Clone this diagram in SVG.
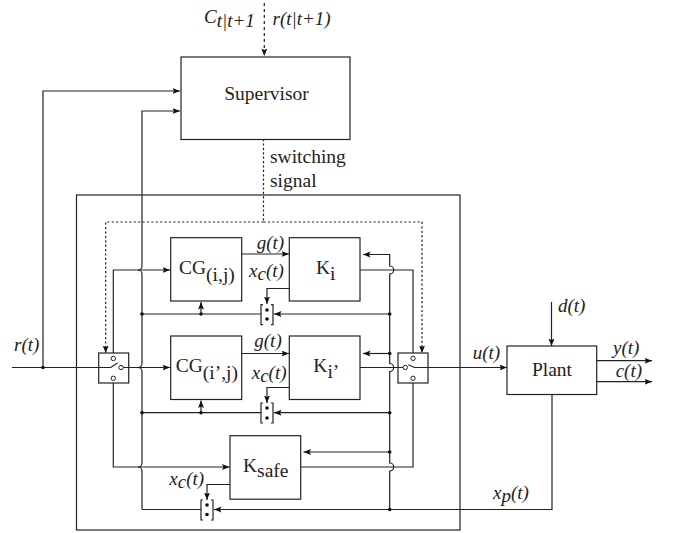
<svg xmlns="http://www.w3.org/2000/svg" width="673" height="533" viewBox="0 0 673 533">
<style>
.b{fill:#fff;stroke:#222;stroke-width:1.2}
.l{fill:none;stroke:#222;stroke-width:1.2}
.d{fill:none;stroke:#222;stroke-width:1.2;stroke-dasharray:2.2 2.2}
.c{fill:#fff;stroke:#222;stroke-width:1}
.m{fill:none;stroke:#222;stroke-width:1.2}
text{font-family:"Liberation Serif",serif;fill:#222;font-size:19.5px}
.i{font-style:italic;font-size:19px}
</style>
<defs>
<marker id="a" viewBox="0 0 8 8" refX="7.5" refY="4" markerWidth="8" markerHeight="8" markerUnits="userSpaceOnUse" orient="auto"><path d="M0 1L7.5 4L0 7L1.5 4Z" fill="#111"/></marker>
<circle id="dot" r="1.8" fill="#111"/>
</defs>
<g id="outer-box"><rect x="76.500" y="195" width="383.500" height="335" fill="none" stroke="#222" stroke-width="1.200"/></g>
<g id="connectors">
<path class="l" d="M12 367.500H98.700"/>
<path class="l" marker-end="url(#a)" d="M43 367.500V91H180"/>
<path class="l" marker-end="url(#a)" d="M142 509.500V471a4 4 0 0 0 -4 -4a4 4 0 0 0 4 -4V371.500a4 4 0 0 0 -4 -4a4 4 0 0 0 4 -4V274a4 4 0 0 0 -4 -4a4 4 0 0 0 4 -4V111H180"/>
<path class="d" style="stroke-dasharray:3 3" marker-end="url(#a)" d="M264.300 3V56"/>
<path class="d" d="M263.500 139V222"/>
<path class="d" marker-end="url(#a)" d="M263.500 222H105.700V353"/>
<path class="d" marker-end="url(#a)" d="M263.500 222H422V353"/>
<path class="l" marker-end="url(#a)" d="M113.300 356V270H170"/>
<path class="l" marker-end="url(#a)" d="M124.500 367.500H170"/>
<path class="l" marker-end="url(#a)" d="M113.300 381V467H229.500"/>
<path class="l" marker-end="url(#a)" d="M242 254H289"/>
<path class="l" marker-end="url(#a)" d="M242 353.500H289"/>
<path class="l" marker-end="url(#a)" d="M289 288.500H267V304"/>
<path class="l" marker-end="url(#a)" d="M289 387.500H267V403"/>
<path class="l" marker-end="url(#a)" d="M230 484.500H207V500"/>
<path class="l" d="M142 314H261"/>
<path class="l" d="M142 412.700H261"/>
<path class="l" marker-end="url(#a)" d="M201 314V302"/>
<path class="l" marker-end="url(#a)" d="M201 412.700V400.500"/>
<path class="l" marker-end="url(#a)" d="M389.700 314H274"/>
<path class="l" marker-end="url(#a)" d="M389.700 412.700H274"/>
<path class="l" marker-end="url(#a)" d="M552 394V509.500H214"/>
<path class="l" d="M142 509.500H201"/>
<path class="l" marker-end="url(#a)" d="M389.700 509.500V471a4 4 0 0 0 4 -4a4 4 0 0 0 -4 -4V371.500a4 4 0 0 0 4 -4a4 4 0 0 0 -4 -4V274a4 4 0 0 0 4 -4a4 4 0 0 0 -4 -4V254.500H363"/>
<path class="l" marker-end="url(#a)" d="M389.700 353.500H363"/>
<path class="l" marker-end="url(#a)" d="M389.700 452H303.500"/>
<path class="l" d="M360 270H413V356"/>
<path class="l" d="M360 367.500H403"/>
<path class="l" d="M300.700 467H413V381"/>
<path class="l" marker-end="url(#a)" d="M428 367.500H507"/>
<path class="l" marker-end="url(#a)" d="M551.500 302V346"/>
<path class="l" marker-end="url(#a)" d="M597 360.700H652"/>
<path class="l" marker-end="url(#a)" d="M597 381.700H652"/>
<use href="#dot" x="43" y="367.500"/><use href="#dot" x="142" y="314"/><use href="#dot" x="142" y="412.700"/>
<use href="#dot" x="201" y="314"/><use href="#dot" x="201" y="412.700"/>
<use href="#dot" x="389.700" y="314"/><use href="#dot" x="389.700" y="353.500"/><use href="#dot" x="389.700" y="412.700"/><use href="#dot" x="389.700" y="452"/><use href="#dot" x="389.700" y="509.500"/>
</g>
<g id="supervisor"><rect class="b" x="181" y="57" width="169" height="82.500"/><text x="266.500" y="100" text-anchor="middle">Supervisor</text></g>
<g id="cg1"><rect class="b" x="170.700" y="237.700" width="71" height="63.300"/><text x="179" y="274">CG<tspan dy="6.500">(i,j)</tspan></text></g>
<g id="cg2"><rect class="b" x="170.700" y="336" width="71" height="63.500"/><text x="175.700" y="372">CG<tspan dy="6.500">(i’,j)</tspan></text></g>
<g id="ki"><rect class="b" x="289.300" y="237.700" width="70.700" height="63.300"/><text x="316" y="274">K<tspan dy="6">i</tspan></text></g>
<g id="ki2"><rect class="b" x="289.300" y="336" width="70.700" height="63.500"/><text x="313.300" y="372">K<tspan dy="6">i’</tspan></text></g>
<g id="ksafe"><rect class="b" x="230" y="435.700" width="70.700" height="63.500"/><text x="243" y="472">K<tspan dy="4.500">safe</tspan></text></g>
<g id="plant"><rect class="b" x="507" y="346" width="89.700" height="48.500"/><text x="552" y="376" text-anchor="middle">Plant</text></g>
<g id="switch-left"><rect class="b" x="98.700" y="353" width="30" height="30"/><path class="l" d="M98.700 367.500H110.700L117.500 363M123 367.500H128.700"/><circle class="c" cx="113.300" cy="358.500" r="2.200"/><circle class="c" cx="121" cy="367.500" r="2.200"/><circle class="c" cx="113.300" cy="378.300" r="2.200"/></g>
<g id="switch-right"><rect class="b" x="398" y="353" width="30" height="30"/><path class="l" d="M398 367.500H403M408.300 364.800L414.500 367.500H428"/><circle class="c" cx="405.300" cy="367.500" r="2.200"/><circle class="c" cx="413" cy="358.300" r="2.200"/><circle class="c" cx="413" cy="378.300" r="2.200"/></g>
<g id="mux1"><path class="m" d="M263 304.700H261V324.700H263M271 304.700H273V324.700H271"/><use href="#dot" x="267" y="310"/><use href="#dot" x="267" y="319"/></g>
<g id="mux2"><path class="m" d="M263 403H261V423H263M271 403H273V423H271"/><use href="#dot" x="267" y="408"/><use href="#dot" x="267" y="418"/></g>
<g id="mux3"><path class="m" d="M203 500H201V520H203M211 500H213V520H211"/><use href="#dot" x="207" y="505"/><use href="#dot" x="207" y="514.500"/></g>
<g id="labels">
<text class="i" x="204" y="23">C<tspan dy="4">t|t+1</tspan></text>
<text class="i" x="272.500" y="25">r(t|t+1)</text>
<text x="270" y="163">switching</text>
<text x="270" y="187">signal</text>
<text class="i" x="14" y="351">r(t)</text>
<text class="i" x="256.700" y="249">g(t)</text>
<text class="i" x="249" y="277">x<tspan dy="2.500">c</tspan><tspan dy="-2.500">(t)</tspan></text>
<text class="i" x="254.300" y="347">g(t)</text>
<text class="i" x="251.700" y="379">x<tspan dy="2.500">c</tspan><tspan dy="-2.500">(t)</tspan></text>
<text class="i" x="169.300" y="485">x<tspan dy="2.500">c</tspan><tspan dy="-2.500">(t)</tspan></text>
<text class="i" x="472.700" y="359.300">u(t)</text>
<text class="i" x="558" y="311.700">d(t)</text>
<text class="i" x="613" y="354">y(t)</text>
<text class="i" x="615.700" y="376.700">c(t)</text>
<text class="i" x="493" y="499">x<tspan dy="2.500">p</tspan><tspan dy="-2.500">(t)</tspan></text>
</g>
</svg>
